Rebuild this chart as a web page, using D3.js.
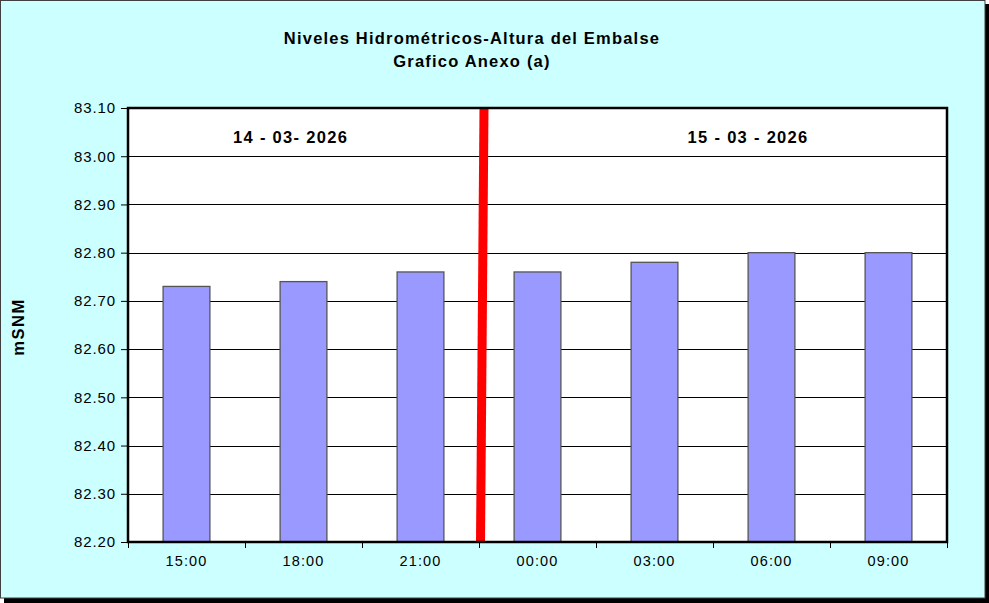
<!DOCTYPE html>
<html><head><meta charset="utf-8">
<script src="https://cdn.jsdelivr.net/npm/d3@7"></script>
<style>body{margin:0;background:#fff}svg{display:block;font-family:Arial,"Liberation Sans",sans-serif}</style>
</head><body>
<svg id="c" width="989" height="603"></svg>
<script>
const categories = ["15:00","18:00","21:00","00:00","03:00","06:00","09:00"];
const values = [82.73,82.74,82.76,82.76,82.78,82.80,82.80];
const yTicks = [82.20,82.30,82.40,82.50,82.60,82.70,82.80,82.90,83.00,83.10];
const titleLines = ["Niveles Hidrométricos-Altura del Embalse","Grafico Anexo (a)"];
const dateLabels = ["14 - 03- 2026","15 - 03 - 2026"];
const yTitle = "mSNM";

const svg = d3.select("#c");
// shadow + frame
svg.append("rect").attr("x",4).attr("y",4).attr("width",985).attr("height",599).attr("fill","#000");
svg.append("rect").attr("x",0.5).attr("y",0.5).attr("width",984.5).attr("height",597.5)
  .attr("fill","#CCFFFF").attr("stroke","#404040").attr("stroke-width",1);

const m = {left:128, right:947, top:108, bottom:542};
const xb = d3.scaleBand().domain(categories).range([m.left,m.right]);
const y = d3.scaleLinear().domain([82.2,83.1]).range([m.bottom,m.top]);

// plot background
svg.append("rect").attr("x",m.left).attr("y",m.top).attr("width",m.right-m.left).attr("height",m.bottom-m.top).attr("fill","#fff");

// gridlines
svg.append("g").selectAll("line").data(yTicks.slice(1,-1)).join("line")
  .attr("x1",m.left).attr("x2",m.right)
  .attr("y1",d=>Math.round(y(d))+0.5).attr("y2",d=>Math.round(y(d))+0.5)
  .attr("stroke","#000").attr("stroke-width",1);

// bars
svg.append("g").selectAll("rect").data(values).join("rect")
  .attr("x",(d,i)=>xb(categories[i])+xb.bandwidth()*0.3)
  .attr("width",xb.bandwidth()*0.4)
  .attr("y",d=>y(d)).attr("height",d=>y(82.2)-y(d))
  .attr("fill","#9999FF").attr("stroke","#555").attr("stroke-width",1.3);

// red separator
const sep = xb(categories[3]);
svg.append("line").attr("x1",sep+5).attr("y1",m.top).attr("x2",sep+1.5).attr("y2",m.bottom)
  .attr("stroke","#FF0000").attr("stroke-width",9);

// plot border
svg.append("rect").attr("x",m.left).attr("y",m.top).attr("width",m.right-m.left).attr("height",m.bottom-m.top)
  .attr("fill","none").attr("stroke","#000").attr("stroke-width",2.5);

// y axis
const yAxis = d3.axisLeft(y).tickValues(yTicks).tickFormat(d3.format(".2f")).tickSize(6).tickPadding(5);
const gy = svg.append("g").attr("transform",`translate(${m.left-1},0)`).call(yAxis);
gy.select(".domain").remove();
gy.selectAll("line").attr("stroke","#000");
gy.selectAll("text").attr("font-size",15).attr("letter-spacing","0.9px").attr("fill","#000").attr("font-family","Arial,'Liberation Sans',sans-serif");

// x axis
const xAxis = d3.axisBottom(xb).tickSize(0).tickPadding(13);
const gx = svg.append("g").attr("transform",`translate(0,${m.bottom+1})`).call(xAxis);
gx.select(".domain").remove();
gx.selectAll("text").attr("font-size",14.5).attr("letter-spacing","1.1px").attr("fill","#000").attr("font-family","Arial,'Liberation Sans',sans-serif");
// x ticks at band boundaries
const bounds = categories.map(c=>xb(c)).concat([m.right]);
svg.append("g").selectAll("line").data(bounds).join("line")
  .attr("x1",d=>Math.round(d)+0.5).attr("x2",d=>Math.round(d)+0.5)
  .attr("y1",m.bottom).attr("y2",m.bottom+6).attr("stroke","#000");

// titles
svg.append("g").selectAll("text").data(titleLines).join("text")
  .attr("x",472).attr("y",(d,i)=>44+i*23).attr("text-anchor","middle")
  .attr("font-size",16.5).attr("letter-spacing","1.2px").attr("font-weight","bold").text(d=>d);

// date labels
svg.append("text").attr("x",xb(categories[0])+xb.bandwidth()*1.39).attr("y",143).attr("text-anchor","middle")
  .attr("font-size",16.5).attr("letter-spacing","1.3px").attr("font-weight","bold").text(dateLabels[0]);
svg.append("text").attr("x",xb(categories[4])+xb.bandwidth()*1.3).attr("y",143).attr("text-anchor","middle")
  .attr("font-size",16.5).attr("letter-spacing","1.3px").attr("font-weight","bold").text(dateLabels[1]);

// y title
svg.append("text").attr("transform","translate(24,327) rotate(-90)").attr("text-anchor","middle")
  .attr("font-size",16.5).attr("letter-spacing","1.5px").attr("font-weight","bold").text(yTitle);
</script>
</body></html>
